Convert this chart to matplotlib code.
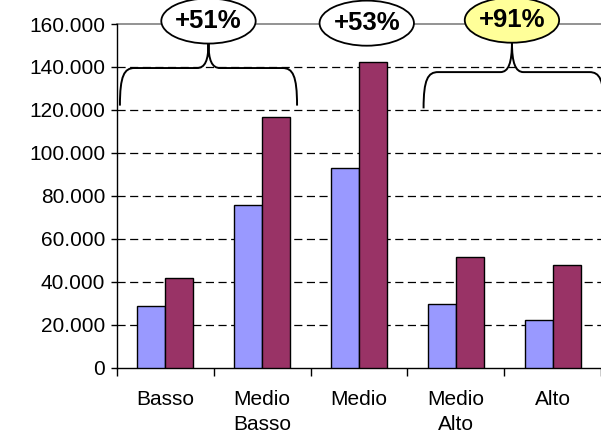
import matplotlib
matplotlib.use("Agg")
import matplotlib.pyplot as plt
from matplotlib.patches import Ellipse, PathPatch
from matplotlib.path import Path

plt.rcParams['font.family'] = ['Liberation Sans', 'DejaVu Sans']

categories = ["Basso", "Medio\nBasso", "Medio", "Medio\nAlto", "Alto"]
before = [28600, 75700, 92900, 29500, 22300]
after = [41500, 116500, 142200, 51300, 47600]
y_ticks = [0, 20000, 40000, 60000, 80000, 100000, 120000, 140000, 160000]
y_tick_labels = ["0", "20.000", "40.000", "60.000", "80.000", "100.000",
                 "120.000", "140.000", "160.000"]

# growth callouts: label, ellipse centre (x, y), fill
callouts = [
    ("+51%", 0.445, 161400, "white"),
    ("+53%", 2.08, 160400, "white"),
    ("+91%", 3.58, 161800, "#FFFF99"),
]
# braces: left x, right x, tip x, end y, flat y, tip y
braces = [
    (-0.47, 1.36, 0.445, 122000, 139500, 151200),
    (2.667, 4.53, 3.58, 120700, 137600, 151600),
]

BLUE = "#9999FF"
PLUM = "#993366"

fig = plt.figure(figsize=(6.01, 4.32), dpi=100)
ax = fig.add_axes([0.1947, 0.1493, 0.8053, 0.7951])

x = list(range(len(categories)))
w = 0.29
ax.bar([i - w / 2 for i in x], before, width=w, color=BLUE,
       edgecolor="black", linewidth=1.0, zorder=3)
ax.bar([i + w / 2 for i in x], after, width=w, color=PLUM,
       edgecolor="black", linewidth=1.0, zorder=3)

ax.set_xlim(-0.5, 4.414)
ax.set_ylim(0, 160000)

# horizontal gridlines
for yv in y_ticks[1:-1]:
    ax.axhline(yv, color="black", linewidth=0.9, dashes=(6.5, 3.6), zorder=1)
ax.axhline(160000, color="#808080", linewidth=1.2, zorder=1, clip_on=False)

ax.spines["top"].set_visible(False)
ax.spines["right"].set_visible(False)
ax.spines["left"].set_linewidth(1.0)
ax.spines["bottom"].set_linewidth(1.0)

ax.set_yticks(y_ticks)
ax.set_yticklabels(y_tick_labels, fontsize=15)
ax.tick_params(axis="y", direction="out", length=4.5, width=1.0, pad=4,
               colors="black")

# category ticks sit between groups; labels go at the centres
ax.set_xticks([i - 0.5 for i in range(len(categories) + 1)])
ax.set_xticklabels([])
ax.set_xticks(x, minor=True)
ax.set_xticklabels(categories, minor=True, fontsize=15, linespacing=1.45)
ax.tick_params(axis="x", which="major", direction="out", length=5.5, width=1.0)
ax.tick_params(axis="x", which="minor", length=0, pad=16)


def draw_brace(x0, x1, xm, y_end, y_flat, y_tip, cx=0.15, tx=0.12):
    dy = (y_flat - y_end)
    verts = [
        (x0, y_end),
        (x0, y_end + dy * 0.8), (x0 + cx * 0.3, y_flat), (x0 + cx, y_flat),
        (xm - tx, y_flat),
        (xm - tx * 0.3, y_flat), (xm, y_flat + (y_tip - y_flat) * 0.3), (xm, y_tip),
        (xm, y_flat + (y_tip - y_flat) * 0.3), (xm + tx * 0.3, y_flat), (xm + tx, y_flat),
        (x1 - cx, y_flat),
        (x1 - cx * 0.3, y_flat), (x1, y_end + dy * 0.8), (x1, y_end),
    ]
    codes = [Path.MOVETO,
             Path.CURVE4, Path.CURVE4, Path.CURVE4,
             Path.LINETO,
             Path.CURVE4, Path.CURVE4, Path.CURVE4,
             Path.CURVE4, Path.CURVE4, Path.CURVE4,
             Path.LINETO,
             Path.CURVE4, Path.CURVE4, Path.CURVE4]
    patch = PathPatch(Path(verts, codes), facecolor="none", edgecolor="black",
                      linewidth=1.4, zorder=5, clip_on=False)
    ax.add_patch(patch)


for b in braces:
    draw_brace(*b)

for label, cx, cy, fc in callouts:
    e = Ellipse((cx, cy), width=0.975, height=21000, facecolor=fc,
                edgecolor="black", linewidth=1.3, zorder=6, clip_on=False)
    ax.add_patch(e)
    ax.text(cx, cy, label, ha="center", va="center", fontsize=18.5,
            fontweight="bold", zorder=7, clip_on=False)

fig.savefig("out.png", dpi=100)
